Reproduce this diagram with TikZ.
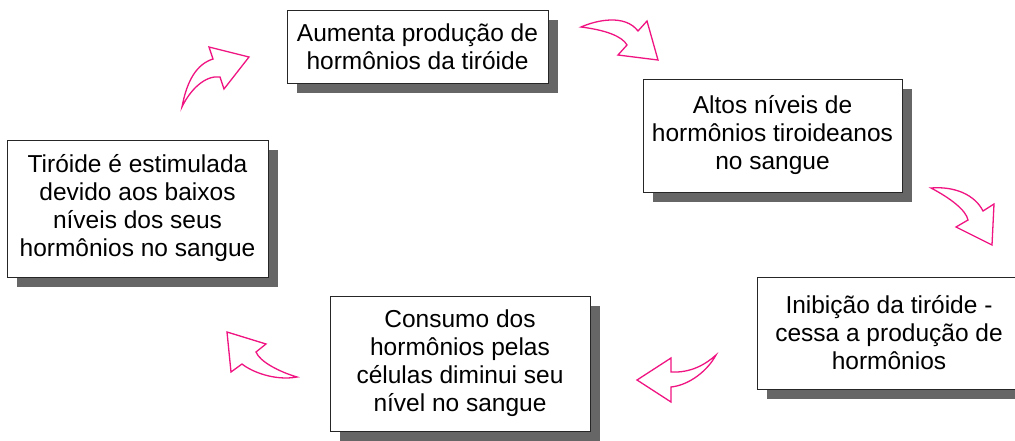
\documentclass[tikz,border=0pt]{standalone}
\usepackage{fontspec}
\setmainfont{Liberation Sans}
\usetikzlibrary{shadows}
\definecolor{arrowpink}{RGB}{240,20,130}
\definecolor{shadowgray}{RGB}{102,102,102}

\begin{document}
\begin{tikzpicture}[x=1pt,y=-1pt]
\tikzstyle{every node}=[draw=black!85,fill=white,line width=0.8pt,align=center,inner sep=0pt,
	font=\fontsize{24.5}{28}\selectfont,
	general shadow={fill=shadowgray,shadow xshift=10pt,shadow yshift=-10pt}]
\tikzstyle{bigarrow}=[draw=arrowpink,fill=white,line width=1.3pt,line join=miter]

\useasboundingbox (0,0) rectangle (1015,440);

\node[minimum width=261pt,minimum height=73pt] (aumenta) at (417.5,46.5)
	{Aumenta produção de\\hormônios da tiróide};
\node[minimum width=259pt,minimum height=113pt] (altos) at (772.5,135.5)
	{Altos níveis de\\hormônios tiroideanos\\no sangue};
\node[minimum width=264pt,minimum height=112pt] (inibicao) at (889,333)
	{Inibição da tiróide -\\cessa a produção de\\hormônios};
\node[minimum width=260pt,minimum height=135pt] (consumo) at (460,363.5)
	{Consumo dos\\hormônios pelas\\células diminui seu\\nível no sangue};
\node[minimum width=261pt,minimum height=137pt] (estimulada) at (137.5,208.5)
	{Tiróide é estimulada\\devido aos baixos\\níveis dos seus\\hormônios no sangue};

\draw[bigarrow] (182,107) .. controls (187,80) and (197,64) .. (213,59)
	-- (209,47) -- (249,57) -- (224,89) -- (220,77)
	.. controls (205,75) and (190,90) .. cycle;
\draw[bigarrow] (581,27) .. controls (597,20) and (625,14) .. (638,31)
	-- (647,21) -- (658,60) -- (618,55) -- (627,45)
	.. controls (622,36) and (605,30) .. cycle;
\draw[bigarrow] (931,188) .. controls (955,186) and (975,195) .. (983,211)
	-- (994,204) -- (992,245) -- (956,227) -- (968,220)
	.. controls (966,210) and (950,198) .. cycle;
\draw[bigarrow] (716,355) .. controls (708,370) and (690,385) .. (671,387)
	-- (671,402) -- (637,380) -- (671,358) -- (671,372)
	.. controls (690,373) and (705,365) .. cycle;
\draw[bigarrow] (297,377) .. controls (275,381) and (252,372) .. (242,364)
	-- (231,372) -- (227,332) -- (266,344) -- (256,352)
	.. controls (260,362) and (280,372) .. cycle;
\end{tikzpicture}
\end{document}
